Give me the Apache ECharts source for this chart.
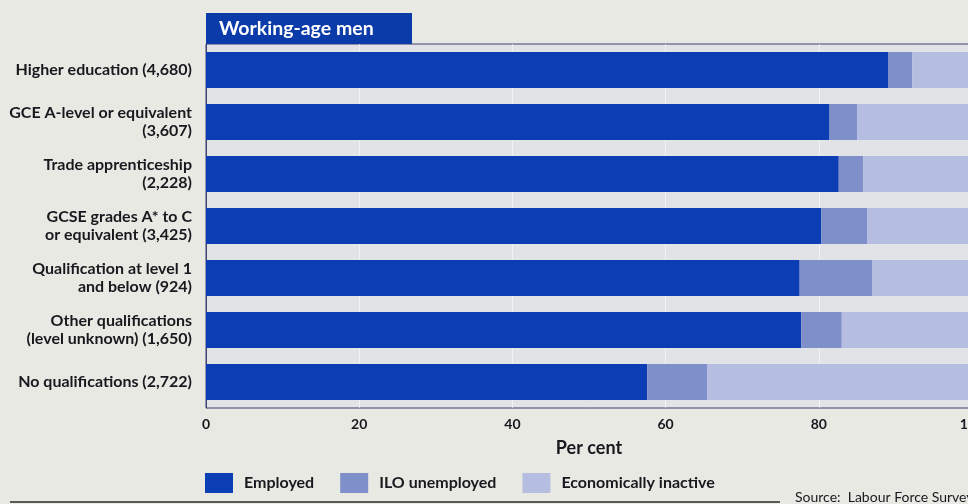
<!DOCTYPE html>
<html>
<head>
<meta charset="utf-8">
<title>Working-age men: economic activity by highest qualification</title>
<script src="https://cdn.jsdelivr.net/npm/echarts@6/dist/echarts.min.js"></script>
<style>
  html, body { margin: 0; padding: 0; background: #e9e9e3; }
  #chart { width: 968px; height: 504px; }
</style>
</head>
<body>
<div id="chart"></div>
<script>
// Highest qualification held (sample size in brackets)
const categories = [
  'Higher education (4,680)',
  'GCE A-level or equivalent\n(3,607)',
  'Trade apprenticeship\n(2,228)',
  'GCSE grades A* to C\nor equivalent (3,425)',
  'Qualification at level 1\nand below (924)',
  'Other qualifications\n(level unknown) (1,650)',
  'No qualifications (2,722)'
];

// Per cent of each group
const employed       = [89.1, 81.4, 82.6, 80.3, 77.5, 77.7, 57.6];
const iloUnemployed  = [3.1, 3.6, 3.2, 6.0, 9.5, 5.3, 7.8];
const inactive       = [7.8, 15.0, 14.2, 13.7, 13.0, 17.0, 34.6];

const xTicks = [0, 20, 40, 60, 80, 100];

const FONT = 'Lato, "Open Sans", sans-serif';
const INK = '#18181e';

const chart = echarts.init(document.getElementById('chart'), null, { renderer: 'canvas' });

const barStyle = (name, data, color) => ({
  name: name,
  type: 'bar',
  stack: 'total',
  data: data,
  barWidth: 36,
  itemStyle: { color: color },
  emphasis: { disabled: true }
});

chart.setOption({
  backgroundColor: '#e9e9e3',
  animation: false,
  grid: {
    left: 206,
    top: 44,
    width: 766,
    height: 364,
    outerBoundsMode: 'none',
    containLabel: false,
    show: true,
    backgroundColor: '#e2e3e6',
    borderColor: '#3c4170',
    borderWidth: 1
  },
  xAxis: {
    type: 'value',
    min: xTicks[0],
    max: xTicks[xTicks.length - 1],
    interval: 20,
    axisLine: { show: false },
    axisTick: { show: false },
    splitLine: { show: true, lineStyle: { color: 'rgba(255,255,255,0.55)', width: 1 } },
    axisLabel: {
      margin: 9,
      color: INK,
      fontFamily: FONT,
      fontWeight: 'bold',
      fontSize: 14,
      hideOverlap: false
    },
    name: 'Per cent',
    nameLocation: 'middle',
    nameGap: 31,
    nameTextStyle: {
      color: INK,
      fontFamily: FONT,
      fontWeight: 'bold',
      fontSize: 18
    }
  },
  yAxis: {
    type: 'category',
    data: categories,
    inverse: true,
    axisLine: { show: true, lineStyle: { color: '#3c4170', width: 1 } },
    axisTick: { show: false },
    splitLine: { show: false },
    axisLabel: {
      margin: 14,
      color: INK,
      fontFamily: FONT,
      fontWeight: 'bold',
      fontSize: 16,
      lineHeight: 18,
      align: 'right'
    }
  },
  legend: {
    left: 200,
    top: 468,
    itemWidth: 28,
    itemHeight: 20,
    itemGap: 26,
    icon: 'rect',
    selectedMode: false,
    textStyle: {
      color: INK,
      fontFamily: FONT,
      fontWeight: 'bold',
      fontSize: 16,
      padding: [0, 0, 0, 6]
    },
    data: ['Employed', 'ILO unemployed', 'Economically inactive']
  },
  series: [
    barStyle('Employed', employed, '#0b3db4'),
    barStyle('ILO unemployed', iloUnemployed, '#7f8fc9'),
    barStyle('Economically inactive', inactive, '#b5bee0')
  ],
  graphic: [
    {
      type: 'rect',
      shape: { x: 206, y: 13, width: 206, height: 31 },
      style: { fill: '#0b3aa9' },
      z: 10
    },
    {
      type: 'text',
      x: 219,
      y: 29,
      style: {
        text: 'Working-age men',
        fill: '#ffffff',
        font: 'bold 19.5px ' + FONT,
        verticalAlign: 'middle'
      },
      z: 11
    },
    {
      type: 'line',
      shape: { x1: 10, y1: 502, x2: 780, y2: 502 },
      style: { stroke: '#2a2a2e', lineWidth: 1.5 }
    },
    {
      type: 'text',
      x: 795,
      y: 497,
      style: {
        text: 'Source:  Labour Force Survey',
        fill: INK,
        font: '14px ' + FONT,
        verticalAlign: 'middle'
      }
    }
  ]
});
</script>
</body>
</html>
